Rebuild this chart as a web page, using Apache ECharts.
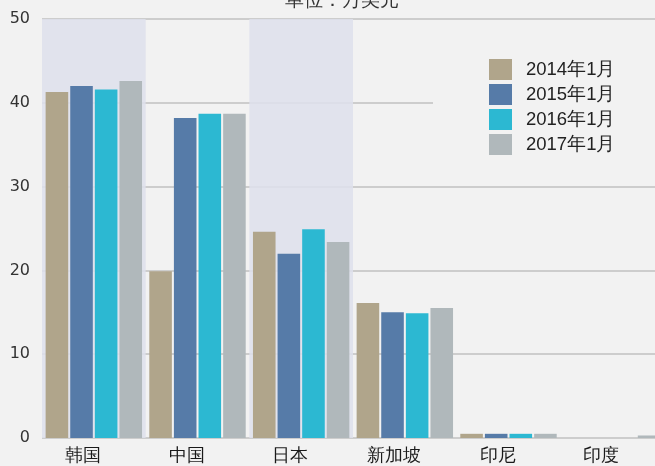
<!DOCTYPE html>
<html>
<head>
<meta charset="utf-8">
<script src="https://cdn.jsdelivr.net/npm/echarts@6/dist/echarts.min.js"></script>
<style>
  html, body { margin: 0; padding: 0; background: #f2f2f2; }
  #main { width: 655px; height: 466px; }
</style>
</head>
<body>
<div id="main"></div>
<script>
// 国家/地区
var categories = ['韩国', '中国', '日本', '新加坡', '印尼', '印度'];
var seriesNames = ['2014年1月', '2015年1月', '2016年1月', '2017年1月'];
// 单位：万美元
var v2014 = [41.3, 19.9, 24.6, 16.1, 0.5, 0];
var v2015 = [42.0, 38.2, 22.0, 15.0, 0.5, 0];
var v2016 = [41.6, 38.7, 24.9, 14.9, 0.5, 0];
var v2017 = [42.6, 38.7, 23.4, 15.5, 0.5, 0.3];
var colors = ['#b0a58b', '#567ba8', '#2cb8d2', '#b0b8bb'];

var chart = echarts.init(document.getElementById('main'));
var values = [v2014, v2015, v2016, v2017];

var option = {
    backgroundColor: '#f2f2f2',
    color: colors,
    title: {
        text: '单位：万美元',
        left: 280,
        top: -14,
        textStyle: {
            color: '#333',
            fontSize: 19,
            fontWeight: 'normal'
        }
    },
    legend: {
        orient: 'vertical',
        left: 433,
        top: 54,
        padding: [5, 80, 6, 56],
        backgroundColor: '#f2f2f2',
        icon: 'rect',
        itemWidth: 23,
        itemHeight: 21,
        itemGap: 4,
        data: seriesNames,
        textStyle: {
            color: '#222',
            fontSize: 18.5,
            padding: [0, 0, 0, 9],
            fontFamily: 'Liberation Sans'
        }
    },
    grid: {
        left: 42,
        top: 19,
        width: 622,
        bottom: 28,
        outerBoundsMode: 'none'
    },
    xAxis: {
        type: 'category',
        data: categories,
        axisLine: { show: false },
        axisTick: { show: false },
        axisLabel: {
            color: '#1a1a1a',
            fontSize: 18,
            margin: 9,
            padding: [0, 22, 0, 0]
        },
        splitArea: {
            show: true,
            areaStyle: {
                // 只给韩国、日本加底色
                color: ['rgba(222,225,236,0.85)', 'rgba(0,0,0,0)', 'rgba(222,225,236,0.85)',
                    'rgba(0,0,0,0)', 'rgba(0,0,0,0)', 'rgba(0,0,0,0)']
            }
        }
    },
    yAxis: {
        type: 'value',
        min: 0,
        max: 50,
        interval: 10,
        axisLine: { show: false },
        axisTick: { show: false },
        axisLabel: {
            color: '#333',
            fontSize: 16,
            margin: 12,
            fontFamily: 'DejaVu Sans'
        },
        splitLine: {
            lineStyle: { color: '#c0c0c0', width: 1.5 }
        }
    },
    series: seriesNames.map(function (name, i) {
        return {
            name: name,
            type: 'bar',
            data: values[i],
            barGap: '9%',
            barCategoryGap: '7%',
            z: 3
        };
    })
};
chart.setOption(option);
</script>
</body>
</html>
